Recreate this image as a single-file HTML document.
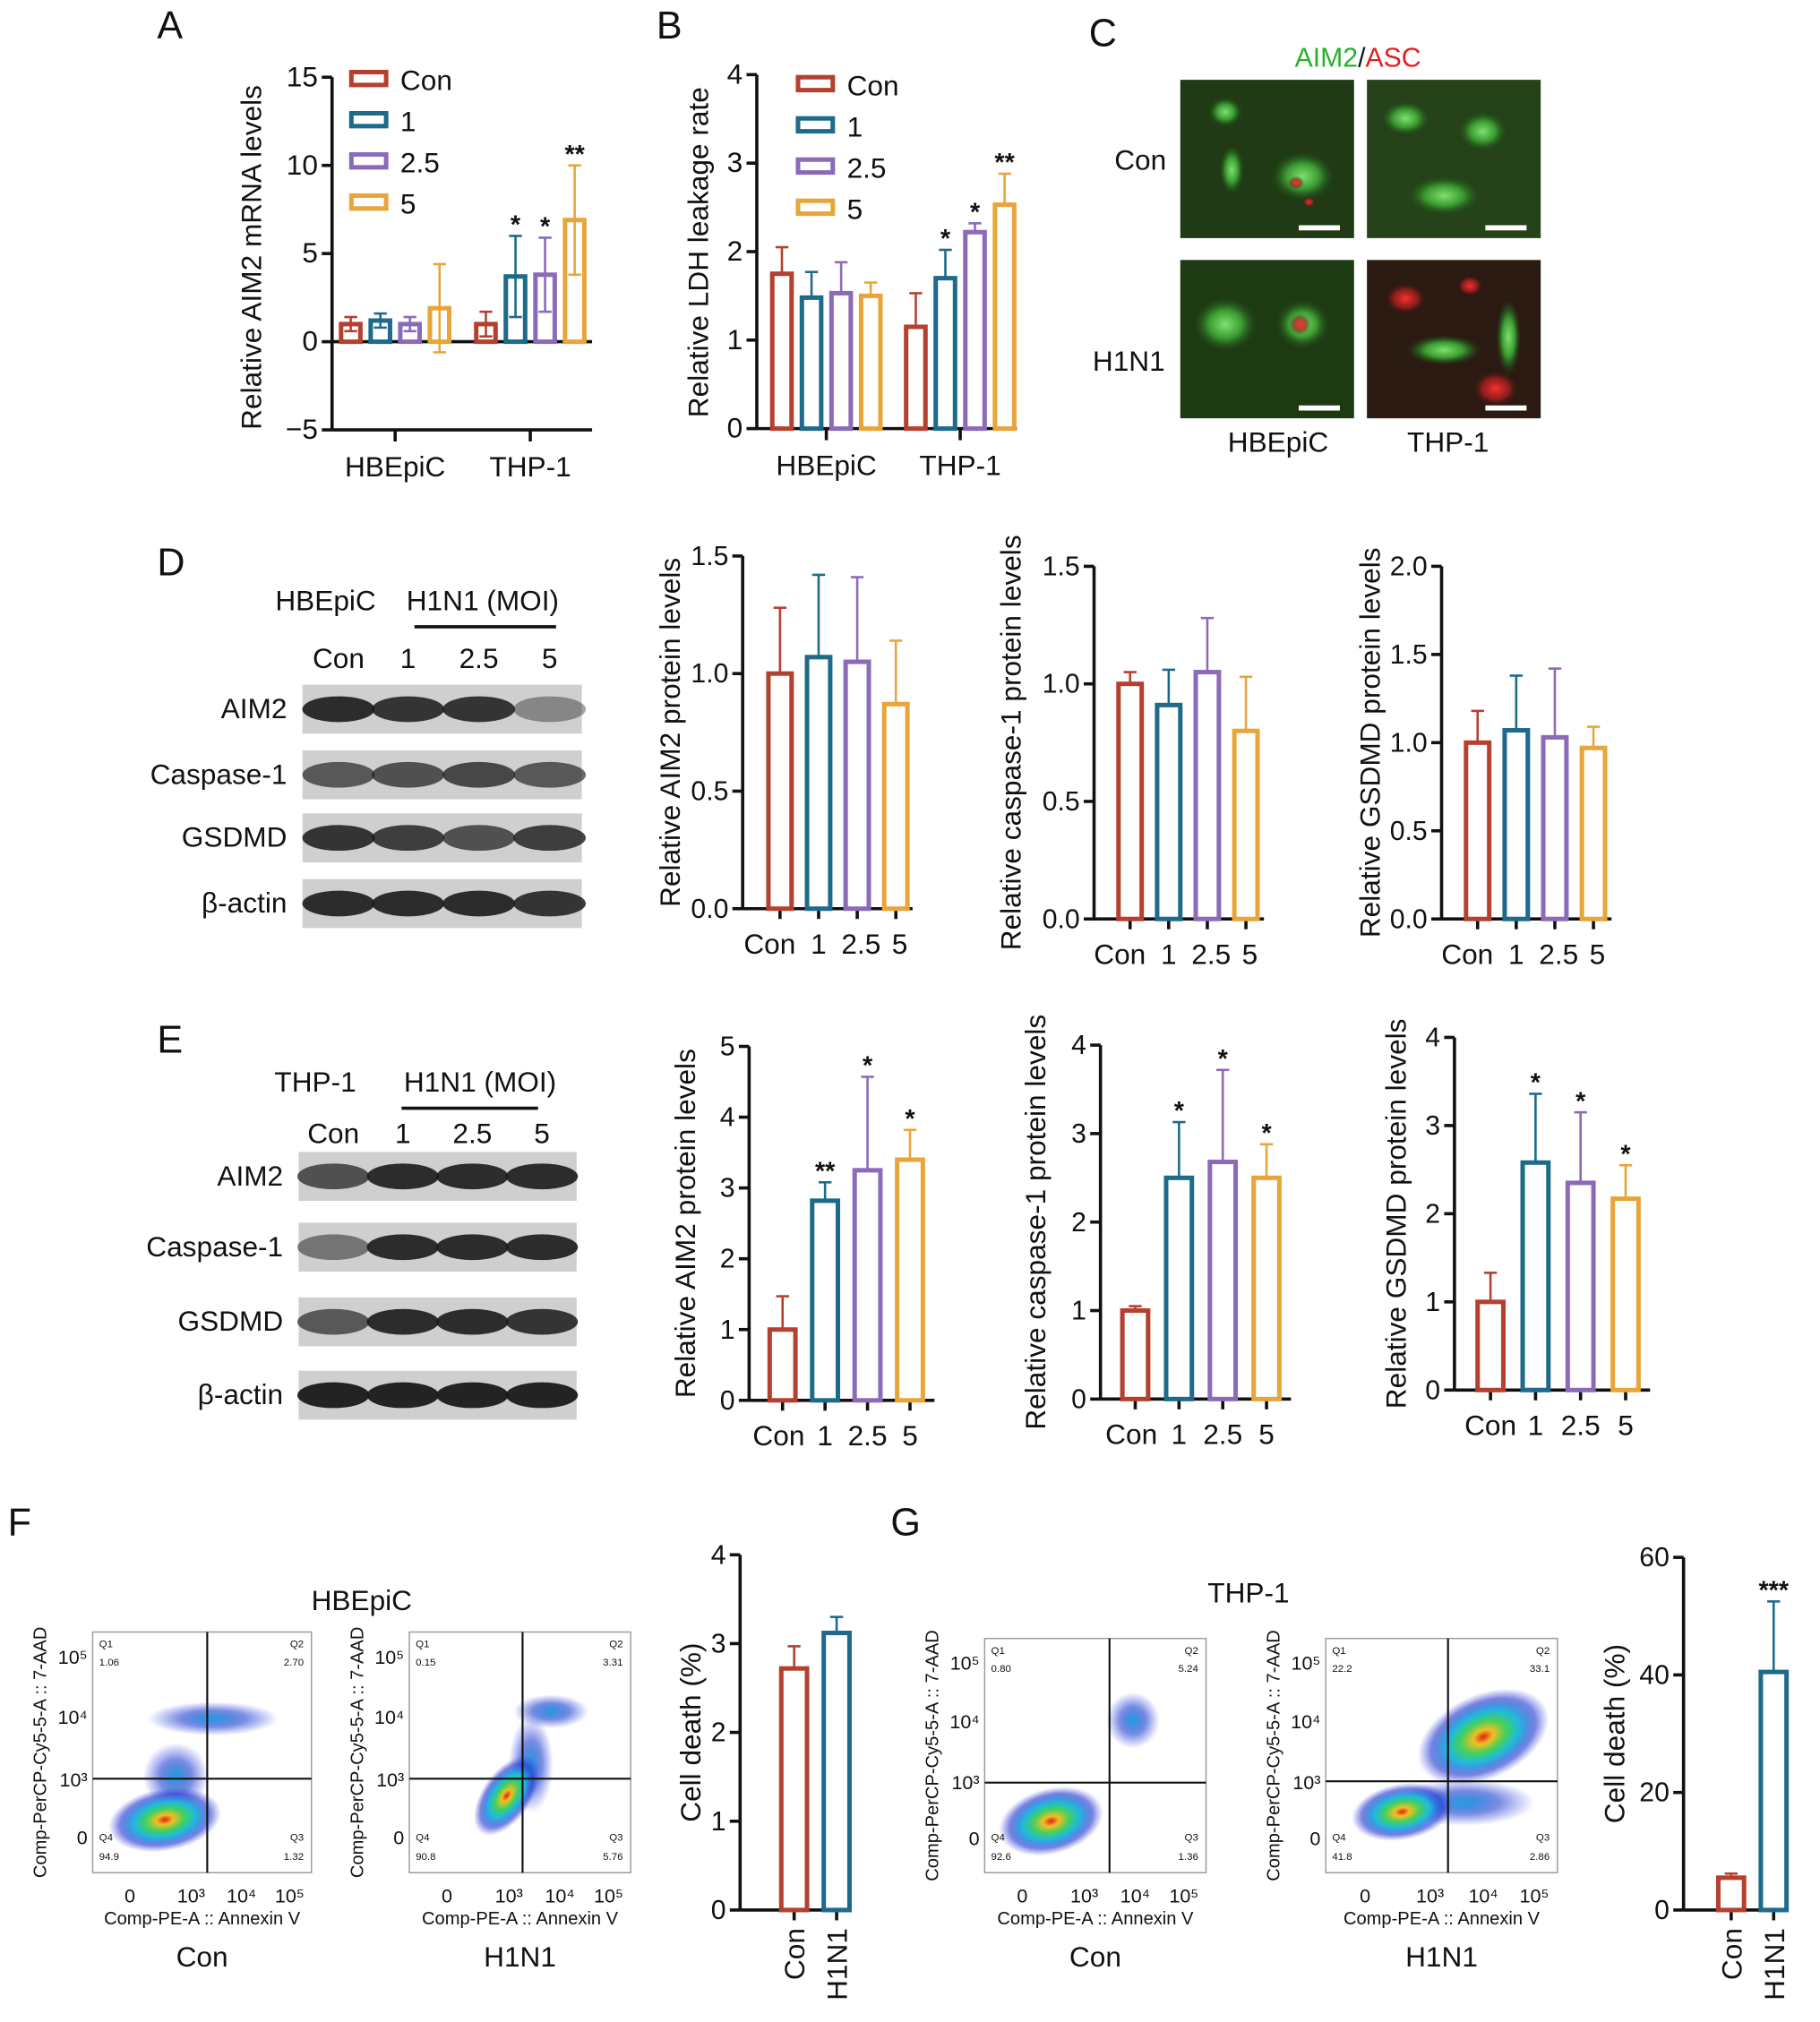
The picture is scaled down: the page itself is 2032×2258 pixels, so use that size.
<!DOCTYPE html>
<html><head><meta charset="utf-8"><style>
html,body{margin:0;padding:0;background:#fff}
svg{display:block}
text{font-family:"Liberation Sans",sans-serif;fill:#111}
</style></head><body>
<svg id="fig" width="2032" height="2258" viewBox="0 0 1414 1571" preserveAspectRatio="none" xmlns="http://www.w3.org/2000/svg">
<defs>
<radialGradient id="dens"><stop offset="0" stop-color="#e0201a"/><stop offset="0.15" stop-color="#f0c020"/><stop offset="0.35" stop-color="#40d060"/><stop offset="0.55" stop-color="#20b8e0"/><stop offset="0.8" stop-color="#2030d0" stop-opacity="0.6"/><stop offset="1" stop-color="#3040e0" stop-opacity="0"/></radialGradient>
<radialGradient id="densB"><stop offset="0" stop-color="#20a0e0"/><stop offset="0.5" stop-color="#2040d0" stop-opacity="0.6"/><stop offset="1" stop-color="#3040e0" stop-opacity="0"/></radialGradient>
<radialGradient id="gcell"><stop offset="0" stop-color="#7fe070"/><stop offset="0.5" stop-color="#3a9a30"/><stop offset="1" stop-color="#1a3a14" stop-opacity="0"/></radialGradient>
<radialGradient id="rcell"><stop offset="0" stop-color="#ff3030"/><stop offset="0.6" stop-color="#b02020" stop-opacity="0.7"/><stop offset="1" stop-color="#401010" stop-opacity="0"/></radialGradient>
</defs>
<g id="root"></g>
</svg>
<script>
// ---------- DATA ----------
const doseCats = ["Con","1","2.5","5"];
const groupCats = ["HBEpiC","THP-1"];
const aVals = [[1.0,1.2,1.0,1.9],[1.0,3.7,3.8,6.9]];
const aErr  = [[1.4,1.6,1.4,4.4],[1.7,6.0,5.9,10.0]];
const aStars = [["","","",""],["","*","*","**"]];
const aTicks = [-5,0,5,10,15];
const bVals = [[1.75,1.48,1.53,1.50],[1.15,1.70,2.22,2.53]];
const bErr  = [[2.05,1.77,1.88,1.65],[1.53,2.02,2.32,2.88]];
const bStars = [["","","",""],["","*","*","**"]];
const bTicks = [0,1,2,3,4];
const dTicks15=[0,0.5,1.0,1.5], dTickLabels15=["0.0","0.5","1.0","1.5"];
const dTicks20=[0,0.5,1.0,1.5,2.0], dTickLabels20=["0.0","0.5","1.0","1.5","2.0"];
const dAimVals=[1.0,1.07,1.05,0.87], dAimErr=[1.28,1.42,1.41,1.14];
const dCasVals=[1.0,0.91,1.05,0.80], dCasErr=[1.05,1.06,1.28,1.03];
const dGsdVals=[1.0,1.07,1.03,0.97], dGsdErr=[1.18,1.38,1.42,1.09];
const eAimVals=[1.0,2.82,3.25,3.40], eAimErr=[1.47,3.08,4.57,3.82], eAimStars=["","**","*","*"];
const eCasVals=[1.0,2.50,2.68,2.50], eCasErr=[1.05,3.13,3.72,2.88], eCasStars=["","*","*","*"];
const eGsdVals=[1.0,2.58,2.35,2.17], eGsdErr=[1.33,3.36,3.15,2.55], eGsdStars=["","*","*","*"];
const deathCats=["Con","H1N1"];
const fVals=[2.72,3.12], fErr=[2.97,3.30];
const gVals=[5.5,40.5], gErr=[6.2,52.5], gStars=["","***"];
const colors=["#b5402f","#1d6a8a","#8b6bb8","#e8a53a"];
const deathColors=["#b5402f","#1d6a8a"];

// ---------- HELPERS ----------
const NS="http://www.w3.org/2000/svg";
const root=document.getElementById('root');
function el(tag,attrs,parent,txt){const e=document.createElementNS(NS,tag);for(const k in attrs)e.setAttribute(k,attrs[k]);if(txt!==undefined)e.textContent=txt;(parent||root).appendChild(e);return e;}
function txt(x,y,s,size,anchor,parent,extra){return el('text',Object.assign({x:x,y:y,'font-size':size,'text-anchor':anchor||'middle'},extra||{}),parent,s);}
function scale(v0,v1,p0,p1){return v=>p0+(v-v0)*(p1-p0)/(v1-v0);}

function yAxis(g,x,yOf,ticks,lo,hi,fs,labels){
  el('line',{x1:x,y1:yOf(lo),x2:x,y2:yOf(hi),stroke:'#111','stroke-width':2.5},g);
  ticks.forEach((t,i)=>{
    el('line',{x1:x-8,y1:yOf(t),x2:x,y2:yOf(t),stroke:'#111','stroke-width':2.5},g);
    const s=labels?labels[i]:(t<0?'\u2212'+Math.abs(t):String(t));
    const lab=el('text',{x:x-11,y:yOf(t)+7,'font-size':fs||21,'text-anchor':'end'},g,s);
    
    
  });
}
function bar(g,cx,w,yOf,v,err,color,sym,star,name){
  const y0=yOf(0),yv=yOf(v);
  const r=el('rect',{x:cx-w/2,y:Math.min(yv,y0),width:w,height:Math.abs(y0-yv),fill:'#fff',stroke:color,'stroke-width':3.5},g);
  
  
  const ye=yOf(err);
  el('line',{x1:cx,y1:yv,x2:cx,y2:ye,stroke:color,'stroke-width':1.8},g);
  el('line',{x1:cx-5,y1:ye,x2:cx+5,y2:ye,stroke:color,'stroke-width':1.8},g);
  if(sym){const yl=yOf(v-(err-v));el('line',{x1:cx,y1:yv,x2:cx,y2:yl,stroke:color,'stroke-width':1.8},g);el('line',{x1:cx-5,y1:yl,x2:cx+5,y2:yl,stroke:color,'stroke-width':1.8},g);}
  if(star){const s=txt(cx,ye-2,star,20,'middle',g,{'font-weight':'bold'});}
}

// ---------- GROUPED CHART (A, B) ----------
function grouped(o){
  const g=el('g',{},root);
  const yOf=scale(o.lo,o.hi,o.yLo,o.yHi);
  yAxis(g,o.x,yOf,o.ticks,o.lo,o.hi,22);
  el('line',{x1:o.x,y1:yOf(0),x2:o.xEnd,y2:yOf(0),stroke:'#111','stroke-width':2.5},g);
  if(o.lo<0) el('line',{x1:o.x,y1:yOf(o.lo),x2:o.xEnd,y2:yOf(o.lo),stroke:'#111','stroke-width':2.5},g);
  groupCats.forEach((gc,gi)=>{
    const gx=o.gx0+gi*o.gstep;
    el('line',{x1:gx,y1:yOf(o.lo),x2:gx,y2:yOf(o.lo)+9,stroke:'#111','stroke-width':2.5},g);
    const l=txt(gx,yOf(o.lo)+36,gc,22,'middle',g);
    doseCats.forEach((dc,di)=>{
      const cx=gx+(di-1.5)*o.bstep;
      bar(g,cx,15,yOf,o.vals[gi][di],o.err[gi][di],colors[di],o.sym,o.stars[gi][di],'bar-'+gc.toLowerCase()+'-'+dc);
    });
  });
  const yl=txt(0,0,o.ylabel,22,'middle',g,{transform:`translate(${o.ylx},${o.yly}) rotate(-90)`});
  
  doseCats.forEach((dc,di)=>{
    const lg=el('g',{},g);
    const ly=o.legY+di*32;
    el('rect',{x:o.legX,y:ly-6,width:27,height:10,fill:'#fff',stroke:colors[di],'stroke-width':3.5},lg);
    txt(o.legX+38,ly+8,dc,22,'start',lg);
  });
}
grouped({name:'chart-a-aim2-mrna',x:258,xEnd:460,lo:-5,hi:15,yLo:334,yHi:60,ticks:aTicks,gx0:307,gstep:105,bstep:23,vals:aVals,err:aErr,stars:aStars,sym:true,ylabel:'Relative AIM2 mRNA levels',ylx:203,yly:200,legX:273,legY:62});
grouped({name:'chart-b-ldh',x:588,xEnd:790,lo:0,hi:4,yLo:333,yHi:58,ticks:bTicks,gx0:642,gstep:104,bstep:23,vals:bVals,err:bErr,stars:bStars,sym:false,ylabel:'Relative LDH leakage rate',ylx:550,yly:196,legX:620,legY:66});

// ---------- SIMPLE CHARTS ----------
function simple(o){
  const g=el('g',{},root);
  const yOf=scale(0,o.hi,o.yLo,o.yHi);
  yAxis(g,o.x,yOf,o.ticks,0,o.hi,21,o.tickLabels);
  el('line',{x1:o.x,y1:o.yLo,x2:o.x+o.cats.length*o.step+12,y2:o.yLo,stroke:'#111','stroke-width':2.5},g);
  o.cats.forEach((c,i)=>{
    const cx=o.x0+i*o.step;
    el('line',{x1:cx,y1:o.yLo,x2:cx,y2:o.yLo+8,stroke:'#111','stroke-width':2.5},g);
    bar(g,cx,o.bw,yOf,o.vals[i],o.err[i],o.colors[i],false,o.stars?o.stars[i]:'','bar-'+c);
    let l;
    if(o.rot) l=txt(0,0,c,22,'end',g,{transform:`translate(${cx+8},${o.yLo+14}) rotate(-90)`});
    else l=txt(cx+(o.dx?o.dx[i]:0),o.yLo+35,c,22,'middle',g);
    
  });
  const yl=txt(0,0,o.ylabel,22,'middle',g,{transform:`translate(${o.ylx},${(o.yLo+o.yHi)/2}) rotate(-90)`});
  
}
const dx4=[-8,0,3,3];
simple({name:'chart-d-aim2',x:577,yLo:706,yHi:432,hi:1.5,ticks:dTicks15,tickLabels:dTickLabels15,x0:606,step:30,bw:18,cats:doseCats,vals:dAimVals,err:dAimErr,colors:colors,ylabel:'Relative AIM2 protein levels',ylx:528,dx:dx4});
simple({name:'chart-d-caspase1',x:850,yLo:714,yHi:440,hi:1.5,ticks:dTicks15,tickLabels:dTickLabels15,x0:878,step:30,bw:18,cats:doseCats,vals:dCasVals,err:dCasErr,colors:colors,ylabel:'Relative caspase-1 protein levels',ylx:793,dx:dx4});
simple({name:'chart-d-gsdmd',x:1120,yLo:714,yHi:440,hi:2.0,ticks:dTicks20,tickLabels:dTickLabels20,x0:1148,step:30,bw:18,cats:doseCats,vals:dGsdVals,err:dGsdErr,colors:colors,ylabel:'Relative GSDMD protein levels',ylx:1072,dx:dx4});
simple({name:'chart-e-aim2',x:582,yLo:1088,yHi:813,hi:5,ticks:[0,1,2,3,4,5],x0:608,step:33,bw:20,cats:doseCats,vals:eAimVals,err:eAimErr,stars:eAimStars,colors:colors,ylabel:'Relative AIM2 protein levels',ylx:540,dx:[-3,0,0,0]});
simple({name:'chart-e-caspase1',x:855,yLo:1087,yHi:812,hi:4,ticks:[0,1,2,3,4],x0:882,step:34,bw:20,cats:doseCats,vals:eCasVals,err:eCasErr,stars:eCasStars,colors:colors,ylabel:'Relative caspase-1 protein levels',ylx:812,dx:[-3,0,0,0]});
simple({name:'chart-e-gsdmd',x:1130,yLo:1080,yHi:806,hi:4,ticks:[0,1,2,3,4],x0:1158,step:35,bw:20,cats:doseCats,vals:eGsdVals,err:eGsdErr,stars:eGsdStars,colors:colors,ylabel:'Relative GSDMD protein levels',ylx:1092,dx:[0,0,0,0]});
simple({name:'chart-f-cell-death',x:575,yLo:1484,yHi:1208,hi:4,ticks:[0,1,2,3,4],x0:617,step:33,bw:20,cats:deathCats,vals:fVals,err:fErr,colors:deathColors,ylabel:'Cell death (%)',ylx:544,rot:true});
simple({name:'chart-g-cell-death',x:1308,yLo:1484,yHi:1210,hi:60,ticks:[0,20,40,60],x0:1345,step:33,bw:20,cats:deathCats,vals:gVals,err:gErr,stars:gStars,colors:deathColors,ylabel:'Cell death (%)',ylx:1262,rot:true});

// ---------- PANEL LETTERS ----------
[['A',122,30],['B',510,30],['C',846,36],['D',122,447],['E',122,818],['F',6,1193],['G',692,1193]].forEach(p=>{
  const t=txt(p[1],p[2],p[0],30,'start');
});

// ---------- PANEL C ----------
(function(){
  const g=el('g',{},root);
  const t=el('text',{x:1055,y:52,'font-size':21,'text-anchor':'middle'},g);
  const s1=el('tspan',{},t,'AIM2');s1.setAttribute('style','fill:#2ab02a');
  el('tspan',{},t,'/');
  const s3=el('tspan',{},t,'ASC');s3.setAttribute('style','fill:#e02020');
  const imgs=[[917,62,'#1f3a14',[[35,25,14,12,'g'],[40,70,10,20,'g'],[95,75,26,20,'g'],[90,80,6,5,'r'],[100,95,5,4,'r']]],
              [1062,62,'#254218',[[90,40,20,16,'g'],[60,90,30,16,'g'],[30,30,20,14,'g']]],
              [917,202,'#1e3a12',[[35,50,26,22,'g'],[95,50,22,20,'g'],[93,50,8,8,'r']]],
              [1062,202,'#2a1a12',[[30,30,16,12,'r'],[100,100,18,14,'r'],[80,20,10,8,'r'],[60,70,30,12,'g'],[110,60,10,30,'g']]]];
  imgs.forEach(im=>{
    const ig=el('g',{},g);
    el('rect',{x:im[0],y:im[1],width:135,height:123,fill:im[2]},ig);
    im[3].forEach(c=>el('ellipse',{cx:im[0]+c[0],cy:im[1]+c[1],rx:c[2],ry:c[3],fill:c[4]=='g'?'url(#gcell)':'url(#rcell)'},ig));
    el('rect',{x:im[0]+92,y:im[1]+113,width:32,height:4,fill:'#fff'},ig);
  });
  txt(886,132,'Con',22,'middle',g);txt(877,288,'H1N1',22,'middle',g);
  txt(993,351,'HBEpiC',22,'middle',g);txt(1125,351,'THP-1',22,'middle',g);
})();

// ---------- WESTERN BLOTS ----------
function blot(o){
  const g=el('g',{},root);
  txt(o.cellX,o.hdrY,o.cell,22,'middle',g);txt(o.moiX,o.hdrY,'H1N1 (MOI)',22,'middle',g);
  el('line',{x1:o.lineX1,y1:o.hdrY+13,x2:o.lineX2,y2:o.hdrY+13,stroke:'#111','stroke-width':2.5},g);
  doseCats.forEach((c,i)=>txt(o.laneX[i],o.laneY,c,22,'middle',g));
  o.rows.forEach((r,ri)=>{
    const rg=el('g',{},g);
    const y=o.rowY[ri];
    txt(o.x-12,y+26,r,22,'end',rg);
    el('rect',{x:o.x,y:y,width:o.w,height:38,fill:'#cfcfcf'},rg);
    o.laneX.forEach((lx,li)=>{
      el('ellipse',{cx:lx,cy:y+19,rx:(o.w/8)+1,ry:10,fill:`rgba(25,25,25,${o.intens[ri][li]})`},rg);
    });
  });
}
blot({name:'blot-d-hbepic',cell:'HBEpiC',cellX:253,moiX:375,hdrY:474,lineX1:322,lineX2:432,laneX:[263,317,372,427],laneY:519,x:235,w:217,rowY:[532,583,632,683],
 rows:['AIM2','Caspase-1','GSDMD','\u03b2-actin'],intens:[[0.9,0.85,0.85,0.4],[0.65,0.7,0.75,0.65],[0.85,0.8,0.7,0.8],[0.9,0.9,0.9,0.85]]});
blot({name:'blot-e-thp1',cell:'THP-1',cellX:245,moiX:373,hdrY:848,lineX1:312,lineX2:418,laneX:[259,313,367,421],laneY:888,x:232,w:216,rowY:[895,950,1008,1065],
 rows:['AIM2','Caspase-1','GSDMD','\u03b2-actin'],intens:[[0.7,0.9,0.9,0.9],[0.5,0.9,0.9,0.9],[0.65,0.9,0.9,0.85],[0.95,0.95,0.95,0.95]]});

// ---------- FLOW PLOTS ----------
function flow(o){
  const g=el('g',{},root);
  const x=o.x,y=o.y,w=o.w,h=o.h;
  el('rect',{x:x,y:y,width:w,height:h,fill:'#fff',stroke:'#999','stroke-width':1},g);
  o.blobs.forEach(b=>el('ellipse',{cx:x+b[0]*w,cy:y+b[1]*h,rx:b[2]*w,ry:b[3]*h,fill:b[4]?'url(#dens)':'url(#densB)',transform:`rotate(${b[5]||0} ${x+b[0]*w} ${y+b[1]*h})`},g));
  el('line',{x1:o.qx,y1:y,x2:o.qx,y2:y+h,stroke:'#111','stroke-width':1.5},g);
  el('line',{x1:x,y1:o.qy,x2:x+w,y2:o.qy,stroke:'#111','stroke-width':1.5},g);
  const q=o.q;
  txt(x+5,y+12,'Q1',8,'start',g);txt(x+5,y+26,q[0],8,'start',g);
  txt(x+w-6,y+12,'Q2',8,'end',g);txt(x+w-6,y+26,q[1],8,'end',g);
  txt(x+w-6,y+h-25,'Q3',8,'end',g);txt(x+w-6,y+h-10,q[2],8,'end',g);
  txt(x+5,y+h-25,'Q4',8,'start',g);txt(x+5,y+h-10,q[3],8,'start',g);
  [['10\u2075',0.1],['10\u2074',0.35],['10\u00b3',0.61],['0',0.85]].forEach(t=>txt(x-4,y+t[1]*h+6,t[0],15,'end',g));
  [['0',0.17],['10\u00b3',0.45],['10\u2074',0.68],['10\u2075',0.9]].forEach(t=>txt(x+t[1]*w,y+h+23,t[0],15,'middle',g));
  txt(x+w/2,y+h+40,'Comp-PE-A :: Annexin V',14,'middle',g);
  txt(0,0,'Comp-PerCP-Cy5-5-A :: 7-AAD',14,'middle',g,{transform:`translate(${x-36},${y+h/2}) rotate(-90)`});
  txt(x+w/2,y+h+73,o.label,22,'middle',g);
}
flow({name:'flow-hbepic-con',x:72,y:1268,w:170,h:187,qx:161,qy:1382,q:['1.06','2.70','1.32','94.9'],label:'Con',
  blobs:[[0.55,0.36,0.3,0.07,false],[0.38,0.6,0.15,0.14,false,0],[0.33,0.78,0.26,0.13,true,-10]]});
flow({name:'flow-hbepic-h1n1',x:318,y:1268,w:172,h:187,qx:406,qy:1382,q:['0.15','3.31','5.76','90.8'],label:'H1N1',
  blobs:[[0.64,0.33,0.17,0.07,false],[0.55,0.55,0.1,0.2,false],[0.44,0.68,0.11,0.19,true,35]]});
txt(281,1251,'HBEpiC',22,'middle');
flow({name:'flow-thp1-con',x:765,y:1273,w:172,h:182,qx:862,qy:1385,q:['0.80','5.24','1.36','92.6'],label:'Con',
  blobs:[[0.67,0.35,0.12,0.12,false],[0.3,0.78,0.24,0.14,true,-15]]});
flow({name:'flow-thp1-h1n1',x:1030,y:1273,w:180,h:182,qx:1125,qy:1384,q:['22.2','33.1','2.86','41.8'],label:'H1N1',
  blobs:[[0.6,0.7,0.3,0.1,false],[0.68,0.42,0.3,0.18,true,-25],[0.33,0.74,0.22,0.12,true,-10]]});
txt(970,1245,'THP-1',22,'middle');
</script>
</body></html>
